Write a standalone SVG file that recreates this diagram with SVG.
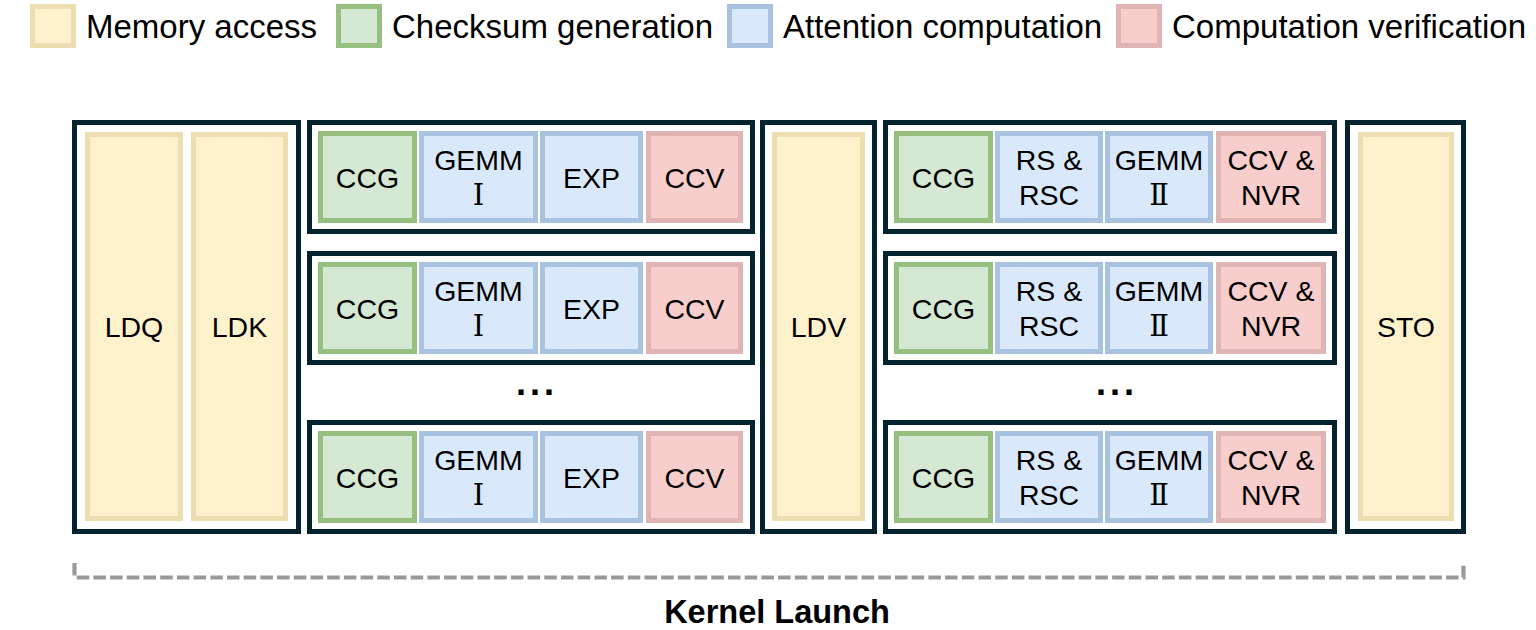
<svg xmlns="http://www.w3.org/2000/svg" width="1536" height="630" viewBox="0 0 1536 630">
<style>
text{font-family:"Liberation Sans",Arial,sans-serif;fill:#000}
.lg{font-size:33px}
.nt{font-size:28.5px;text-anchor:middle}
.rn{font-family:"DejaVu Serif","Liberation Serif",serif;font-size:29px}
.frame{fill:#fff;stroke:#05222f;stroke-width:5}
.mem{fill:#fef2cd;stroke:#ecdeb0;stroke-width:5}
.chk{fill:#d5e8d4;stroke:#97c080;stroke-width:5}
.att{fill:#dae8fc;stroke:#a9c2e0;stroke-width:5}
.ver{fill:#f8cecc;stroke:#e0b4b4;stroke-width:5}
.dots{font-size:36px;font-weight:bold;text-anchor:middle}
.br{fill:none;stroke:#999;stroke-width:4.2;stroke-dasharray:12.5 4.2}
</style>
<g id="legend">
<rect class="mem" x="32.5" y="6.5" width="41" height="39"/>
<text class="lg" x="86" y="37.5">Memory access</text>
<rect class="chk" x="338.5" y="6.5" width="41" height="39"/>
<text class="lg" x="392" y="37.5">Checksum generation</text>
<rect class="att" x="729.5" y="6.5" width="41" height="39"/>
<text class="lg" x="783" y="37.5">Attention computation</text>
<rect class="ver" x="1118.5" y="6.5" width="41" height="39"/>
<text class="lg" x="1172" y="37.5">Computation verification</text>
</g>
<g id="load-qk">
<rect class="frame" x="74.5" y="122.5" width="224" height="409"/>
<rect class="mem" x="87.5" y="134.5" width="93" height="384"/>
<text class="nt" x="134" y="337">LDQ</text>
<rect class="mem" x="193.5" y="134.5" width="92" height="384"/>
<text class="nt" x="239.5" y="337">LDK</text>
</g>
<g id="stage1-row1">
<rect class="frame" x="309.5" y="122.5" width="443" height="109"/>
<rect class="chk" x="320.5" y="133.5" width="94" height="87"/>
<text class="nt" x="367.5" y="187.5">CCG</text>
<rect class="att" x="421.5" y="133.5" width="114" height="87"/>
<text class="nt" x="478.5" y="170">GEMM</text>
<text class="nt rn" x="478.5" y="205">Ⅰ</text>
<rect class="att" x="542.5" y="133.5" width="98" height="87"/>
<text class="nt" x="591.5" y="187.5">EXP</text>
<rect class="ver" x="648.5" y="133.5" width="92" height="87"/>
<text class="nt" x="694.5" y="187.5">CCV</text>
</g>
<g id="stage1-row2">
<rect class="frame" x="309.5" y="253.5" width="443" height="109"/>
<rect class="chk" x="320.5" y="264.5" width="94" height="87"/>
<text class="nt" x="367.5" y="318.5">CCG</text>
<rect class="att" x="421.5" y="264.5" width="114" height="87"/>
<text class="nt" x="478.5" y="301">GEMM</text>
<text class="nt rn" x="478.5" y="336">Ⅰ</text>
<rect class="att" x="542.5" y="264.5" width="98" height="87"/>
<text class="nt" x="591.5" y="318.5">EXP</text>
<rect class="ver" x="648.5" y="264.5" width="92" height="87"/>
<text class="nt" x="694.5" y="318.5">CCV</text>
</g>
<g id="stage1-ellipsis">
<text class="dots" x="521 535 549" y="395">...</text>
</g>
<g id="stage1-row3">
<rect class="frame" x="309.5" y="422.5" width="443" height="109"/>
<rect class="chk" x="320.5" y="433.5" width="94" height="87"/>
<text class="nt" x="367.5" y="487.5">CCG</text>
<rect class="att" x="421.5" y="433.5" width="114" height="87"/>
<text class="nt" x="478.5" y="470">GEMM</text>
<text class="nt rn" x="478.5" y="505">Ⅰ</text>
<rect class="att" x="542.5" y="433.5" width="98" height="87"/>
<text class="nt" x="591.5" y="487.5">EXP</text>
<rect class="ver" x="648.5" y="433.5" width="92" height="87"/>
<text class="nt" x="694.5" y="487.5">CCV</text>
</g>
<g id="load-v">
<rect class="frame" x="762.5" y="122.5" width="112" height="409"/>
<rect class="mem" x="774.5" y="134.5" width="88" height="384"/>
<text class="nt" x="818.5" y="337">LDV</text>
</g>
<g id="stage2-row1">
<rect class="frame" x="885.5" y="122.5" width="449" height="109"/>
<rect class="chk" x="896.5" y="133.5" width="94" height="87"/>
<text class="nt" x="943.5" y="187.5">CCG</text>
<rect class="att" x="997.5" y="133.5" width="103" height="87"/>
<text class="nt" x="1049" y="170">RS &amp;</text>
<text class="nt" x="1049" y="205">RSC</text>
<rect class="att" x="1107.5" y="133.5" width="103" height="87"/>
<text class="nt" x="1159" y="170">GEMM</text>
<text class="nt rn" x="1159" y="205">Ⅱ</text>
<rect class="ver" x="1218.5" y="133.5" width="105" height="87"/>
<text class="nt" x="1271" y="170">CCV &amp;</text>
<text class="nt" x="1271" y="205">NVR</text>
</g>
<g id="stage2-row2">
<rect class="frame" x="885.5" y="253.5" width="449" height="109"/>
<rect class="chk" x="896.5" y="264.5" width="94" height="87"/>
<text class="nt" x="943.5" y="318.5">CCG</text>
<rect class="att" x="997.5" y="264.5" width="103" height="87"/>
<text class="nt" x="1049" y="301">RS &amp;</text>
<text class="nt" x="1049" y="336">RSC</text>
<rect class="att" x="1107.5" y="264.5" width="103" height="87"/>
<text class="nt" x="1159" y="301">GEMM</text>
<text class="nt rn" x="1159" y="336">Ⅱ</text>
<rect class="ver" x="1218.5" y="264.5" width="105" height="87"/>
<text class="nt" x="1271" y="301">CCV &amp;</text>
<text class="nt" x="1271" y="336">NVR</text>
</g>
<g id="stage2-ellipsis">
<text class="dots" x="1101 1115 1129" y="395">...</text>
</g>
<g id="stage2-row3">
<rect class="frame" x="885.5" y="422.5" width="449" height="109"/>
<rect class="chk" x="896.5" y="433.5" width="94" height="87"/>
<text class="nt" x="943.5" y="487.5">CCG</text>
<rect class="att" x="997.5" y="433.5" width="103" height="87"/>
<text class="nt" x="1049" y="470">RS &amp;</text>
<text class="nt" x="1049" y="505">RSC</text>
<rect class="att" x="1107.5" y="433.5" width="103" height="87"/>
<text class="nt" x="1159" y="470">GEMM</text>
<text class="nt rn" x="1159" y="505">Ⅱ</text>
<rect class="ver" x="1218.5" y="433.5" width="105" height="87"/>
<text class="nt" x="1271" y="470">CCV &amp;</text>
<text class="nt" x="1271" y="505">NVR</text>
</g>
<g id="store-o">
<rect class="frame" x="1347.5" y="122.5" width="116" height="409"/>
<rect class="mem" x="1360.5" y="134.5" width="91" height="384"/>
<text class="nt" x="1406" y="337">STO</text>
</g>
<g id="connectors">
<path class="br" d="M74.5 563 V577.5 H1463.5 V563"/>
</g>
<g id="kernel-launch">
<text x="777" y="623" style="font-size:32.5px;font-weight:bold;text-anchor:middle">Kernel Launch</text>
</g>
</svg>
